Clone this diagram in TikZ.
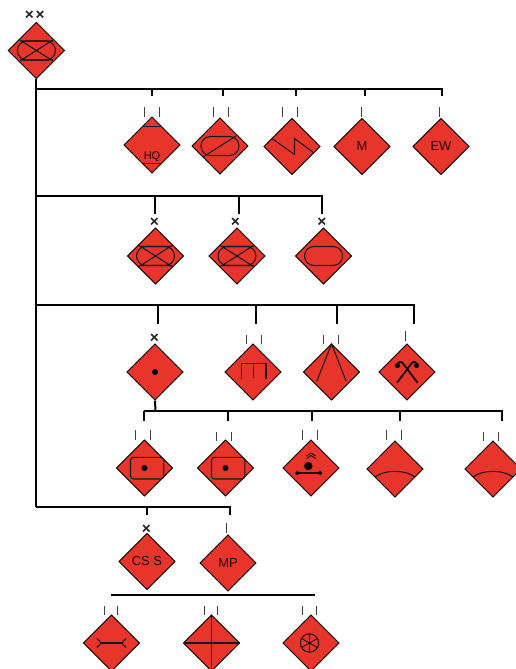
\documentclass[tikz,border=0pt]{standalone}
\usepackage{fontspec}
\setmainfont{Liberation Sans}
\usetikzlibrary{shapes.geometric}
\definecolor{unitred}{HTML}{E8352B}
\definecolor{tickgray}{HTML}{404040}
\tikzset{
  unit/.style={diamond,shape aspect=1,draw=black,line width=0.9pt,fill=unitred,minimum width=56.5pt,minimum height=56.5pt,inner sep=0pt,font=\fontsize{13}{15}\selectfont,text=black!85!unitred},
  conn/.style={line width=2pt,black,line cap=butt,line join=miter},
  tickmark/.style={line width=1pt,tickgray},
  crossmark/.style={line width=1.6pt,black!85},
  sym/.style={line width=1.05pt,black!90},
  symthick/.style={line width=1.6pt,black},
  lab/.style={inner sep=0pt,font=\fontsize{11}{13}\selectfont,text=black!85!unitred}
}
\newcommand{\crossat}[2]{\draw[crossmark] (#1-3.2,#2-3.2) -- (#1+3.2,#2+3.2) (#1-3.2,#2+3.2) -- (#1+3.2,#2-3.2);}
\newcommand{\ovalsym}{\draw[sym,rounded corners=9.4pt] (-19,-9.5) rectangle (19,9.5);}
\newcommand{\xsym}{\draw[sym] (-16.5,-10.5) -- (16.5,10.5) (-16.5,10.5) -- (16.5,-10.5) (-16.5,-9.5) -- (16.5,-9.5) (-16.5,9.5) -- (16.5,9.5);}
\begin{document}
\begin{tikzpicture}[x=1pt,y=-1pt]
\fill[white] (0,0) rectangle (516,669);
\path[clip] (0,0) rectangle (516,669);
% units
\node[unit] (top) at (36.4,50.5) {};
\node[unit] (hq) at (152,145) {};
\node[unit] (a2) at (220,146) {};
\node[unit] (a3) at (292,146.5) {};
\node[unit] (am) at (362,146.5) {M};
\node[unit] (ew) at (441,146.5) {EW};
\node[unit] (b1) at (155.5,256) {};
\node[unit] (b2) at (237,256) {};
\node[unit] (b3) at (323.5,256) {};
\node[unit] (c1) at (155,372) {};
\node[unit] (c2) at (253,372) {};
\node[unit] (c3) at (331.5,372) {};
\node[unit] (c4) at (407,372) {};
\node[unit] (d1) at (144.5,468) {};
\node[unit] (d2) at (225.5,468) {};
\node[unit] (d3) at (311,468) {};
\node[unit] (d4) at (395,469) {};
\node[unit] (d5) at (493,469) {};
\node[unit] (cs) at (147,561.5) {CS S};
\node[unit] (mp) at (228,563) {MP};
\node[unit] (f1) at (111.5,643) {};
\node[unit] (f2) at (211.5,643) {};
\node[unit] (f3) at (311,643) {};
% connectors
\coordinate (bar1s) at (36.4,88.5); \coordinate (bar1e) at (442.5,88.5);
\coordinate (bar2s) at (36.4,196); \coordinate (bar2e) at (322.5,196);
\coordinate (bar3s) at (36.4,305); \coordinate (bar3e) at (415,305);
\coordinate (bar4s) at (143.5,411); \coordinate (bar4e) at (503,411);
\coordinate (bar4j) at (155.5,411);
\coordinate (bar5s) at (36.4,506.5); \coordinate (bar5e) at (231,506.5);
\coordinate (bar6s) at (111,595); \coordinate (bar6e) at (314.5,595);
\draw[conn] (top.south) -- (bar5s);
\draw[conn] (bar1s) -- (bar1e);
\draw[conn] (bar2s) -- (bar2e);
\draw[conn] (bar3s) -- (bar3e);
\draw[conn] (bar4s) -- (bar4e);
\draw[conn] (bar5s) -- (bar5e);
\draw[conn] (bar6s) -- (bar6e);
\draw[conn] (c1.south) -- (bar4j);
\foreach \k/\x/\ya/\yb in {
  a/152/88.5/96, b/222.7/88.5/96, c/296/88.5/96, d/365/88.5/96, e/441.7/88.5/96,
  f/154.5/196/213.5, g/239/196/213.5, h/321.7/196/213.5,
  i/157.5/305/324, j/255.7/305/324, k/337/305/324, l/414/305/324,
  m/144/411/420.5, n/227.5/411/420.5, o/312/411/420.5, p/400/411/420.5, q/502/411/420.5,
  r/146.7/506.5/515, s/230/506.5/515}{
  \coordinate (s\k) at (\x,\ya);
  \coordinate (e\k) at (\x,\yb);
  \draw[conn] (s\k) -- (e\k);
}
% echelon ticks
\foreach \x/\ya/\yb in {
  144.3/107/117, 159.3/107/117, 213.3/107/117, 228.3/107/117,
  282.3/107/117, 297.7/107/117, 361/107/117, 439.3/107/117,
  246/334.5/344, 261/334.5/344, 323.3/334.5/344, 338.7/334.5/344, 405.3/331.3/341,
  135/430.3/440, 150.3/430.3/440, 216.3/431.7/441, 231.3/431.7/441,
  302/430.3/440, 317/430.3/440, 386.3/430.3/440, 401.3/430.3/440,
  483.3/431.7/441, 498.3/431.7/441, 226.7/523.3/533.3,
  104/605.7/615, 117.3/605.7/615, 204/605.7/615, 217.3/605.7/615,
  302.7/605.7/615, 316/605.7/615}{
  \draw[tickmark] (\x,\ya) -- (\x,\yb);
}
\crossat{29.3}{14.3}\crossat{40}{14.3}
\crossat{154.3}{221.3}\crossat{235.3}{221.3}\crossat{321.7}{221.3}
\crossat{154.3}{337.3}\crossat{146.3}{528.3}
% symbols
\begin{scope}[shift={(top.center)}]\ovalsym\xsym\end{scope}
\begin{scope}[shift={(hq.center)}]
  \draw[sym] (-9.5,-18.3) -- (9.5,-18.3) (-9.5,18.3) -- (9.5,18.3);
  \node[lab] (hqt) at (0,11.5) {HQ};
\end{scope}
\begin{scope}[shift={(a2.center)}]\ovalsym\draw[sym] (-17,11) -- (16,-10);\end{scope}
\begin{scope}[shift={(a3.center)}]\draw[sym] (-20,-8) -- (2.5,8) -- (2.5,-8) -- (22,6.5);\end{scope}
\begin{scope}[shift={(b1.center)}]\ovalsym\xsym\end{scope}
\begin{scope}[shift={(b2.center)}]\ovalsym\xsym\end{scope}
\begin{scope}[shift={(b3.center)}]\ovalsym\end{scope}
\begin{scope}[shift={(c1.center)}]\fill[black] (0,0) circle (3);\end{scope}
\begin{scope}[shift={(c2.center)}]
  \draw[sym] (-11.7,7.3) -- (-11.7,-8.7) -- (13,-8.7) -- (13,7.3) (0.3,-8.7) -- (0.3,5.5);
\end{scope}
\begin{scope}[shift={(c3.center)}]
  \draw[sym] (-14.7,9.3) -- (0,-28) -- (14.7,9.3);
\end{scope}
\begin{scope}[shift={(c4.center)}]
  \draw[symthick] (-10,10.7) -- (4.5,-8.5) .. controls (6,-11) and (9,-11) .. (10,-7);
  \draw[symthick] (10.5,10.7) -- (-4,-8.5) .. controls (-5.5,-11) and (-8.5,-11) .. (-9.5,-7);
  \fill[black] (9.5,-6.5) circle (2.6) (-9.5,-6.5) circle (2.6);
\end{scope}
\begin{scope}[shift={(d1.center)}]
  \draw[sym,rounded corners=3pt] (-14,-10.7) rectangle (19.3,11);
  \fill[black] (0,0) circle (3);
\end{scope}
\begin{scope}[shift={(d2.center)}]
  \draw[sym,rounded corners=3pt] (-14,-10.7) rectangle (19.3,11);
  \fill[black] (0,0) circle (3);
\end{scope}
\begin{scope}[shift={(d3.center)}]
  \fill[black] (-2.7,-2) circle (4.2);
  \draw[line width=0.7pt,black] (-4.5,-12) -- (0,-15) -- (4.5,-12) (-4.5,-9.5) -- (0,-12.5) -- (4.5,-9.5);
  \draw[sym] (-13.7,5) -- (9,5);
  \fill[black] (-13.7,2.7) -- (-11.4,5) -- (-13.7,7.3) -- (-16,5) -- cycle;
  \fill[black] (9,2.7) -- (11.3,5) -- (9,7.3) -- (6.7,5) -- cycle;
\end{scope}
\begin{scope}[shift={(d4.center)}]
  \draw[sym] (-19.7,7.7) .. controls (-9,0.5) and (9,0.5) .. (19.7,7.7);
\end{scope}
\begin{scope}[shift={(d5.center)}]
  \draw[sym] (-19.7,7.7) .. controls (-9,0.5) and (9,0.5) .. (19.7,7.7);
\end{scope}
\begin{scope}[shift={(f1.center)}]
  \draw[sym] (-10.7,0) -- (10.7,0);
  \draw[sym] (-14.7,-4.5) .. controls (-12.5,-3) and (-11.5,-1.5) .. (-10.7,0) .. controls (-11.5,1.5) and (-12.5,3) .. (-14.7,4.5);
  \draw[sym] (14.7,-4.5) .. controls (12.5,-3) and (11.5,-1.5) .. (10.7,0) .. controls (11.5,1.5) and (12.5,3) .. (14.7,4.5);
\end{scope}
\begin{scope}[shift={(f2.center)}]
  \draw[sym] (-28,0) -- (28,0) (0,-28) -- (0,28);
\end{scope}
\begin{scope}[shift={(f3.center)}]
  \draw[sym] (-1.5,0) circle (9.2);
  \foreach \a in {30,90,...,330}{\draw[line width=0.7pt,black] (-1.5,0) -- ++(\a:9.2);}
  \fill[black] (-1.5,0) circle (1.2);
\end{scope}
\end{tikzpicture}
\end{document}
